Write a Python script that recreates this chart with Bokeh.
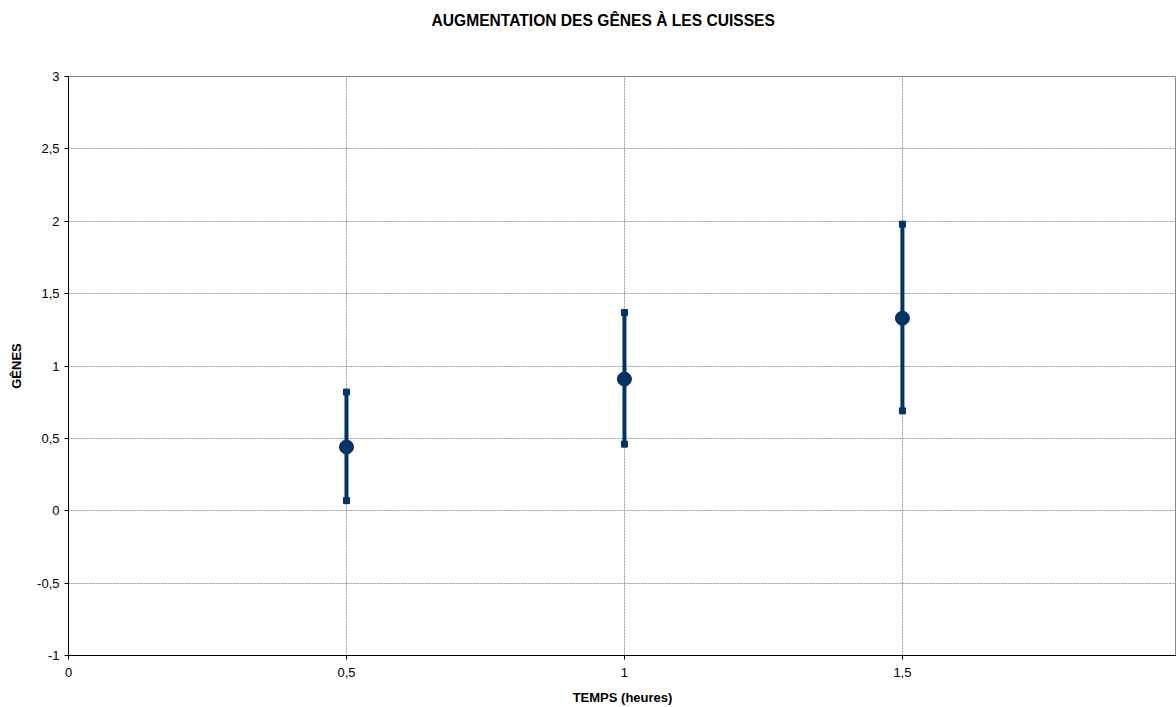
from bokeh.plotting import figure
from bokeh.models import Range1d, FixedTicker, Title
from bokeh.embed import file_html
from bokeh.resources import INLINE

# data
temps = [0.5, 1.0, 1.5]
genes = [0.44, 0.91, 1.33]
err_low = [0.07, 0.46, 0.69]
err_high = [0.82, 1.37, 1.98]

x_ticks = [0, 0.5, 1, 1.5]
x_tick_labels = ["0", "0,5", "1", "1,5"]
y_ticks = [-1, -0.5, 0, 0.5, 1, 1.5, 2, 2.5, 3]
y_tick_labels = ["-1", "-0,5", "0", "0,5", "1", "1,5", "2", "2,5", "3"]

COLOR = "#003366"
FONT = "Liberation Sans"

p = figure(width=1176, height=707, output_backend="svg", toolbar_location=None,
           x_range=Range1d(0, 1.993), y_range=Range1d(-1, 3),
           min_border_left=68, min_border_top=76, min_border_bottom=52, min_border_right=0)

p.title = Title(text="AUGMENTATION DES GÊNES À LES CUISSES", align="left", offset=363,
                text_font=FONT, text_font_size="15.6px", text_font_style="bold",
                text_color="#000000", standoff=18)
spacer = Title(text=" ", text_font_size="1px", standoff=36)
p.add_layout(spacer, "above")

p.outline_line_color = "#888888"
p.outline_line_width = 1
p.background_fill_color = "white"
p.border_fill_color = "white"

p.xaxis.ticker = FixedTicker(ticks=x_ticks)
p.yaxis.ticker = FixedTicker(ticks=y_ticks)
p.xaxis.major_label_overrides = {t: l for t, l in zip(x_ticks, x_tick_labels)}
p.yaxis.major_label_overrides = {t: l for t, l in zip(y_ticks, y_tick_labels)}

for ax in (p.xaxis, p.yaxis):
    ax.axis_line_color = "black"
    ax.axis_line_width = 1
    ax.major_tick_line_color = "black"
    ax.major_tick_out = 4
    ax.major_tick_in = 0
    ax.minor_tick_out = 0
    ax.minor_tick_in = 0
    ax.major_label_text_font = FONT
    ax.major_label_text_font_size = "13px"
    ax.major_label_text_color = "black"
    ax.axis_label_text_font = FONT
    ax.axis_label_text_font_size = "13px"
    ax.axis_label_text_font_style = "bold"
    ax.axis_label_text_color = "black"

p.xaxis.axis_label = "TEMPS (heures)"
p.yaxis.axis_label = "GÊNES"
p.xaxis.major_label_standoff = 8
p.yaxis.major_label_standoff = 5
p.xaxis.axis_label_standoff = 10
p.yaxis.axis_label_standoff = 10

for g in (p.xgrid, p.ygrid):
    g.grid_line_color = "#999999"
    g.grid_line_dash = "2 1"
    g.grid_line_width = 1

p.segment(x0=temps, y0=err_low, x1=temps, y1=err_high, line_color=COLOR, line_width=4)
p.scatter(x=temps, y=err_low, marker="square", size=6, fill_color=COLOR, line_color=COLOR)
p.scatter(x=temps, y=err_high, marker="square", size=6, fill_color=COLOR, line_color=COLOR)
p.scatter(x=temps, y=genes, marker="circle", size=14, fill_color=COLOR, line_color=COLOR)

open("out.html", "w").write(file_html(p, INLINE))
